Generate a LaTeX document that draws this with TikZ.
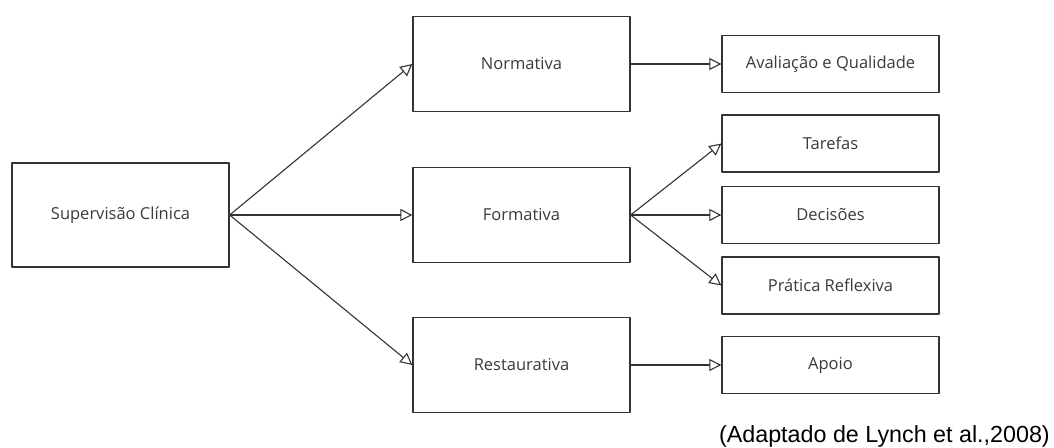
\documentclass[tikz,border=0pt]{standalone}
\usepackage{fontspec}
\setmainfont{Open Sans}
\newfontfamily\captionfont{Liberation Sans}
\usetikzlibrary{arrows.meta}
\definecolor{linegray}{HTML}{333333}
\definecolor{textgray}{HTML}{3A3A3A}

\begin{document}
\begin{tikzpicture}[x=1pt,y=-1pt,line cap=round,line join=round,
        box/.style={draw=linegray,line width=1.3pt,rectangle,minimum width=217pt,text=textgray,font=\fontsize{16.5}{19}\selectfont,inner sep=0pt},
        bigbox/.style={box,minimum height=95pt},
        smallbox/.style={box,minimum height=57pt},
        link/.style={draw=linegray,line width=1.1pt,-{Triangle[open,length=12pt,width=12pt]}}]
            \useasboundingbox (0,0) rectangle (1054,447);

            \node[box,minimum height=104pt] (sup) at (120.5,215) {Supervisão Clínica};
            \node[bigbox] (norm) at (521.5,64) {Normativa};
            \node[bigbox] (form) at (521.5,215) {Formativa};
            \node[bigbox] (rest) at (521.5,365) {Restaurativa};

            \node[smallbox] (aval) at (830.5,64) {Avaliação e Qualidade};
            \node[smallbox] (taref) at (830.5,143.5) {Tarefas};
            \node[smallbox] (decis) at (830.5,215) {Decisões};
            \node[smallbox] (prat) at (830.5,285.5) {Prática Reflexiva};
            \node[smallbox] (apoio) at (830.5,365) {Apoio};

            \draw[link] (sup.east) -- (norm.west);
            \draw[link] (sup.east) -- (form.west);
            \draw[link] (sup.east) -- (rest.west);
            \draw[link] (norm.east) -- (aval.west);
            \draw[link] (form.east) -- (taref.west);
            \draw[link] (form.east) -- (decis.west);
            \draw[link] (form.east) -- (prat.west);
            \draw[link] (rest.east) -- (apoio.west);

            \node[anchor=base east,inner sep=0pt,font=\captionfont\fontsize{23.3}{27}\selectfont] (fonte) at (1050,442) {(Adaptado de Lynch et al.,2008)};
        \end{tikzpicture}
\end{document}
